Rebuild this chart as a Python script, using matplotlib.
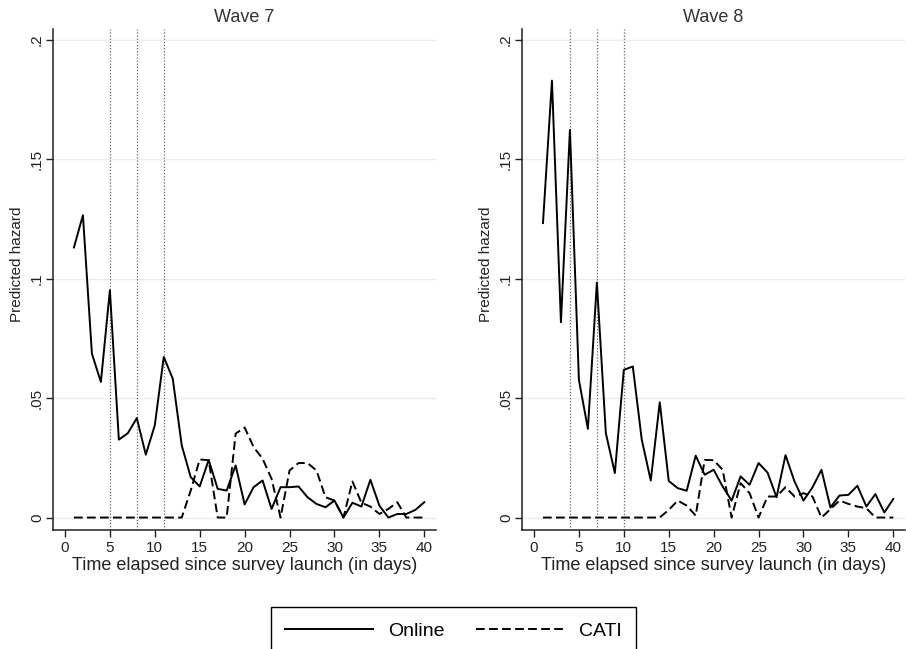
import matplotlib
matplotlib.use("Agg")
import matplotlib.pyplot as plt
import numpy as np

plt.rcParams['font.family'] = ['Liberation Sans', 'DejaVu Sans']

days = np.arange(1, 41)

# Wave 7
w7_online = [.113, .1265, .0686, .0567, .0951, .0326, .0353, .0416, .0263, .0386,
             .0672, .0581, .0302, .0169, .013, .0241, .012, .0113, .0218, .0055,
             .0127, .0155, .0036, .0127, .0127, .013, .0085, .0057, .0043, .0071,
             .0, .0062, .0046, .0158, .005, .0, .0015, .0015, .0032, .0064]
w7_cati = [0, 0, 0, 0, 0, 0, 0, 0, 0, 0,
           0, 0, 0, .0113, .0243, .024, 0, 0, .0351, .0377,
           .0295, .0246, .0162, 0, .0197, .0228, .0228, .0197, .0085, .0071,
           0, .0151, .0062, .0046, .0015, .0036, .0064, 0, 0, 0]
w7_vlines = [5, 8, 11]

# Wave 8
w8_online = [.1232, .1828, .0817, .1622, .0576, .0371, .0983, .0353, .0186, .0618,
             .0632, .0325, .0155, .0482, .0153, .0123, .0112, .0259, .0179, .02,
             .013, .0071, .0172, .0137, .0228, .0188, .0085, .0261, .0151, .0071,
             .0126, .02, .0042, .0092, .0095, .0133, .0046, .0098, .0021, .0078]
w8_cati = [0, 0, 0, 0, 0, 0, 0, 0, 0, 0,
           0, 0, 0, 0, .0032, .0071, .005, .0008, .0241, .024,
           .02, 0, .0144, .0102, 0, .0088, .0088, .0127, .0088, .0102,
           .0088, 0, .0035, .0071, .0057, .0046, .0039, 0, 0, 0]
w8_vlines = [4, 7, 10]

yticks = [0, .05, .1, .15, .2]
ylabels = ['0', '.05', '.1', '.15', '.2']
xticks = np.arange(0, 41, 5)

fig = plt.figure(figsize=(9.06, 6.49), dpi=100)
ax1 = fig.add_axes([0.0588, 0.1834, 0.4224, 0.7719])
ax2 = fig.add_axes([0.5765, 0.1834, 0.4224, 0.7719])

dash = (0, (4.5, 2.2))
for ax, title, on, ca, vl in [(ax1, 'Wave 7', w7_online, w7_cati, w7_vlines),
                              (ax2, 'Wave 8', w8_online, w8_cati, w8_vlines)]:
    for y in yticks:
        ax.axhline(y, color='#ececec', lw=1.0, zorder=0)
    for v in vl:
        ax.axvline(v, color='#666666', lw=0.9, ls=(0, (1, 1.5)), zorder=1)
    l1, = ax.plot(days, on, color='black', lw=1.4, label='Online', zorder=3)
    l2, = ax.plot(days, ca, color='black', lw=1.4, ls=dash, label='CATI', zorder=2)
    ax.set_xlim(-1.3, 41.3)
    ax.set_ylim(-0.0052, 0.2044)
    ax.set_xticks(xticks)
    ax.set_yticks(yticks)
    ax.set_yticklabels(ylabels, rotation=90, va='center')
    ax.tick_params(axis='both', labelsize=11, length=4.7, width=1.0,
                   color='#222222', labelcolor='#222222')
    ax.tick_params(axis='x', pad=3.5)
    ax.tick_params(axis='y', pad=2)
    for s in ['top', 'right']:
        ax.spines[s].set_visible(False)
    for s in ['left', 'bottom']:
        ax.spines[s].set_linewidth(1.1)
        ax.spines[s].set_color('#222222')
    ax.set_title(title, fontsize=13, color='#333333', pad=5)
    ax.set_xlabel('Time elapsed since survey launch (in days)', fontsize=13, color='#222222')
    ax.xaxis.set_label_coords(0.5, -0.07)
    ax.xaxis.label.set_va('center')
    ax.set_ylabel('Predicted hazard', fontsize=11, color='#222222')
    ax.yaxis.set_label_coords(-0.095, 0.53)
    ax.yaxis.label.set_va('center')

leg = fig.legend(handles=[l1, l2], loc='center', bbox_to_anchor=(0.5006, 0.028),
                 ncol=2, fontsize=14, handlelength=4.5, handletextpad=0.8,
                 columnspacing=1.6, borderpad=0.75, fancybox=False, framealpha=1)
leg.get_frame().set_edgecolor('black')
leg.get_frame().set_linewidth(1.0)

fig.savefig('out.png', dpi=100)
